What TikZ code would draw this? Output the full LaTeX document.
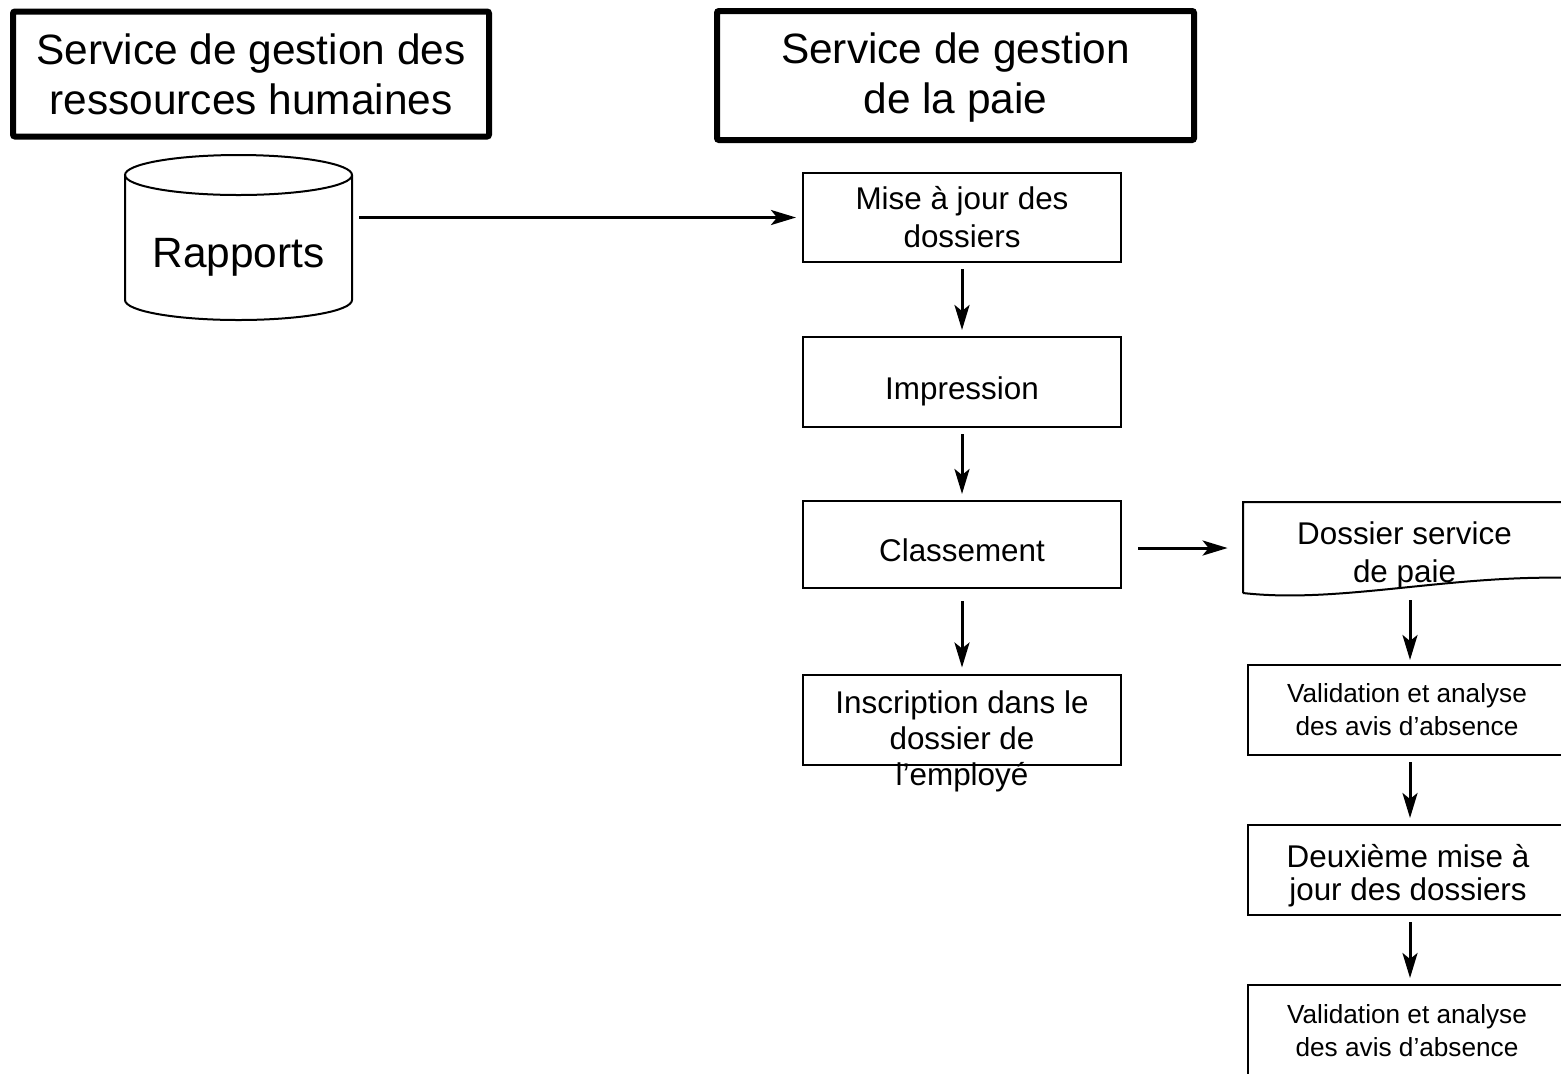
\documentclass[tikz,border=0pt]{standalone}
\usepackage{fontspec}
\setmainfont{Liberation Sans}
\usetikzlibrary{arrows.meta}
\newcommand\fontT{\fontsize{21.2pt}{25pt}\selectfont}
\newcommand\fontB{\fontsize{15.7pt}{19pt}\selectfont}
\newcommand\fontS{\fontsize{13.1pt}{16.5pt}\selectfont}
\begin{document}
\begin{tikzpicture}[x=0.5pt,y=-0.5pt,
  titlebox/.style={draw, line width=3pt, rounded corners=1pt, align=center, font=\fontT, inner sep=0pt},
  stepbox/.style={draw, line width=1pt, minimum width=159pt, align=center, font=\fontB, inner sep=0pt},
  oneline/.style={stepbox, text height=17pt, text depth=0pt},
  smallbox/.style={stepbox, font=\fontS},
  arr/.style={line width=1.5pt, -{Stealth[length=12.5pt,width=7.5pt,inset=3pt]}, shorten <=3pt, shorten >=3pt},
  plain/.style={inner sep=0pt, align=center}]
\useasboundingbox (0,0) rectangle (1561,1073);
\clip (0,0) rectangle (1561,1073);

% department headers
\node[titlebox, minimum width=238pt, minimum height=62.5pt] (rh) at (251,74)
  {Service de gestion des\\ressources humaines};
\node[draw, line width=3pt, rounded corners=1pt, minimum width=238.5pt, minimum height=64.5pt] (paie) at (955.5,75.5) {};
\node[plain, font=\fontT] (paiet) at (955.5,78) {Service de gestion\\de la paie};

% reports store (cylinder)
\node[plain, minimum width=113.5pt, font=\fontT] (rap) at (238.5,257) {Rapports};
\draw[line width=1pt] (125,175) -- (125,300) arc[start angle=180, end angle=0, x radius=113.5, y radius=20] -- (352,175);
\draw[line width=1pt] (238.5,175) ellipse [x radius=113.5, y radius=20];

% payroll steps
\node[stepbox, minimum height=44.5pt] (b1) at (962,217.5) {Mise à jour des\\dossiers};
\node[oneline, minimum height=45pt] (b2) at (962,382) {Impression};
\node[oneline, minimum height=43.5pt] (b3) at (962,544.5) {Classement};
\node[stepbox, minimum height=45pt] (b4) at (962,719.5) {};
\node[plain, font=\fontB, anchor=north] (b4t) at (962,690)
  {Inscription dans le\\[-1pt]dossier de\\[-1pt]l’employé};

% payroll file (document shape)
\node[plain, minimum width=161.5pt, minimum height=46pt] (doc) at (1404.5,548) {};
\node[plain, font=\fontB] (doct) at (1404.5,555) {Dossier service\\de paie};
\draw[line width=1pt] (1243,593) -- (1243,502) -- (1575,502) -- (1575,578)
  .. controls (1450,574) and (1340,604) .. (1243,593);

% right column
\node[smallbox, minimum height=45pt] (v1) at (1407,710) {Validation et analyse\\des avis d’absence};
\node[stepbox, minimum height=45pt] (d2) at (1407,870) {};
\node[plain, font=\fontsize{15.7pt}{16.5pt}\selectfont] (d2t) at (1408,876)
  {Deuxième mise à\\jour des dossiers};
\node[smallbox, minimum height=46pt] (v2) at (1407,1031) {Validation et analyse\\des avis d’absence};

% connectors
\draw[arr, shorten <=3.5pt] (rap.east |- b1.west) -- (b1.west);
\draw[arr] (b1.south) -- (b2.north);
\draw[arr] (b2.south) -- (b3.north);
\draw[arr, shorten <=6pt] (b3.south) -- (b4.north);
\draw[arr, shorten <=8pt, shorten >=7.5pt] (b3.east |- doc.west) -- (doc.west);
\draw[arr, shorten <=3pt, shorten >=2pt] ([xshift=1.5pt]v1.north |- doc.south) -- ([xshift=1.5pt]v1.north);
\draw[arr] ([xshift=1.5pt]v1.south) -- ([xshift=1.5pt]d2.north);
\draw[arr] ([xshift=1.5pt]d2.south) -- ([xshift=1.5pt]v2.north);
\end{tikzpicture}
\end{document}
